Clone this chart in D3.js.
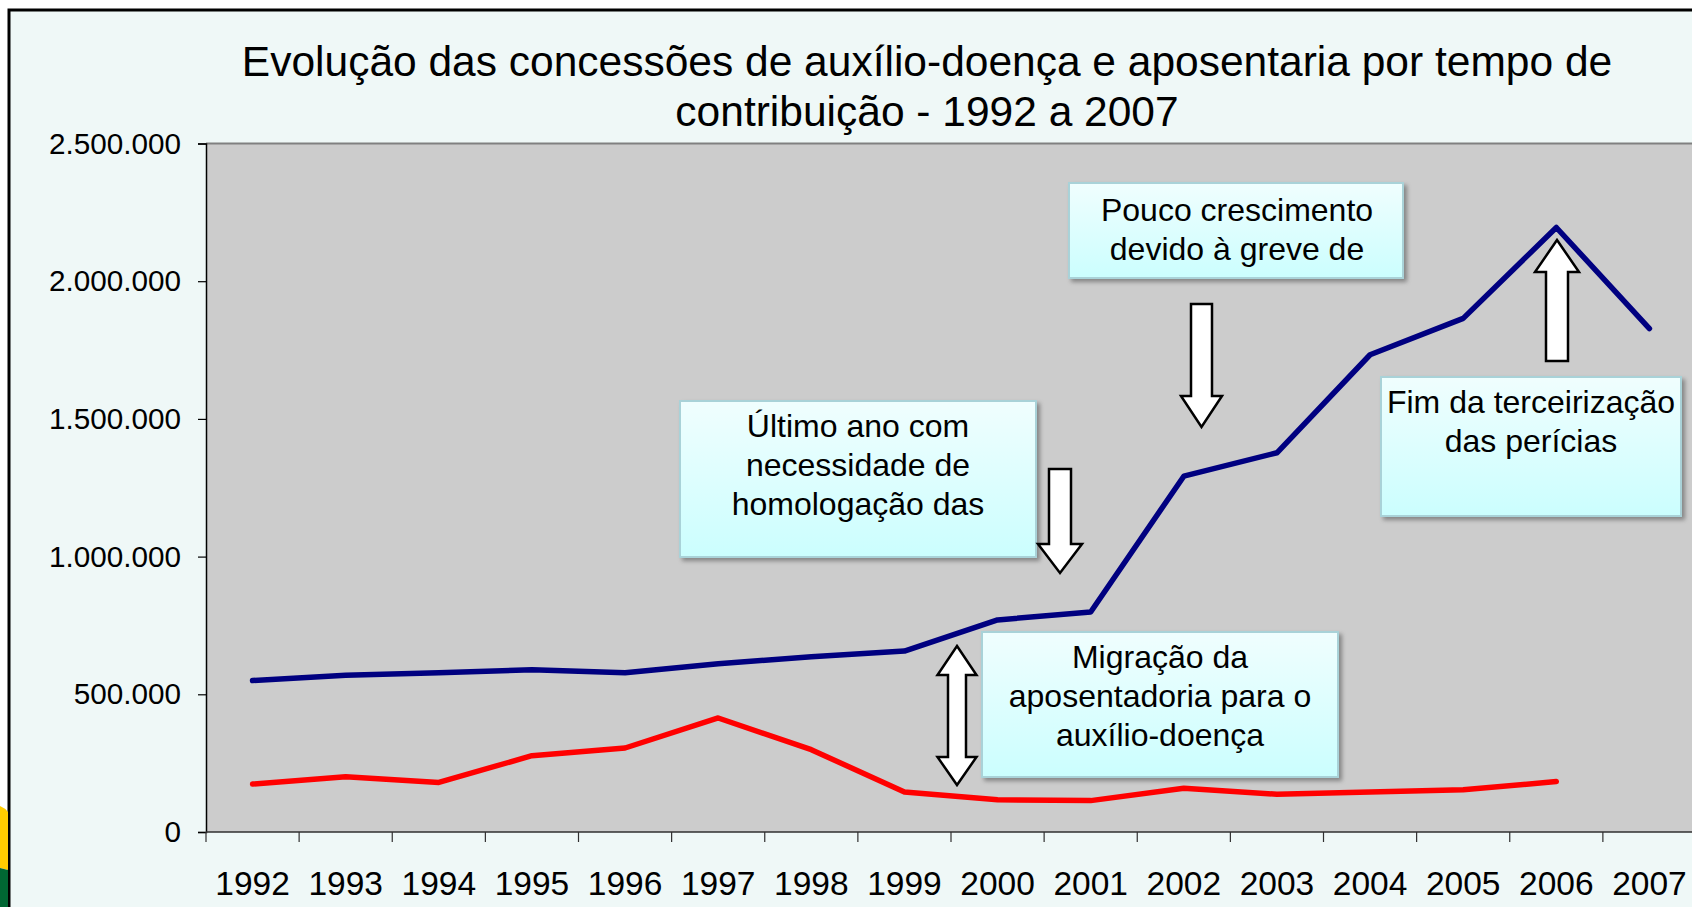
<!DOCTYPE html>
<html>
<head>
<meta charset="utf-8">
<title>Evolução das concessões</title>
<script src="https://d3js.org/d3.v7.min.js"></script>
<style>
  body { margin: 0; background: #fff; overflow: hidden; }
  text { font-family: 'Liberation Sans', Arial, sans-serif; fill: #000; }
</style>
</head>
<body>
<div id="viz"></div>
<script>
  // categories
  const years = ["1992", "1993", "1994", "1995", "1996", "1997", "1998", "1999",
    "2000", "2001", "2002", "2003", "2004", "2005", "2006", "2007"];

  // auxílio-doença (blue)
  const auxilioDoenca = [550000, 569000, 578000, 589000, 578000, 611000, 636000, 657000,
    770000, 799000, 1292000, 1377000, 1733000, 1865000, 2195000, 1828000];

  // aposentadoria por tempo de contribuição (red), no value for 2007
  const aposentadoria = [174000, 201000, 180000, 277000, 305000, 414000, 299000, 145000,
    117000, 114000, 159000, 137000, 145000, 153000, 183000, null];

  const yTicks = [0, 500000, 1000000, 1500000, 2000000, 2500000];

  const titleLines = ["Evolução das concessões de auxílio-doença e aposentaria por tempo de",
    "contribuição - 1992 a 2007"];

  const W = 1692, H = 907;
  const PLOT = { left: 206, right: 1696, top: 143.5, bottom: 832 };

  const colors = {
    page: "#eff8f7",
    plot: "#cccccc",
    blue: "#000080",
    red: "#ff0000"
  };

  const svg = d3.select("#viz").append("svg")
    .attr("width", W)
    .attr("height", H);

  const defs = svg.append("defs");
  const grad = defs.append("linearGradient")
    .attr("id", "boxFill")
    .attr("x1", 0).attr("y1", 0).attr("x2", 0).attr("y2", 1);
  grad.append("stop").attr("offset", "0%").attr("stop-color", "#f0fefe");
  grad.append("stop").attr("offset", "100%").attr("stop-color", "#cbfefe");

  const shadow = defs.append("filter").attr("id", "shadow")
    .attr("x", "-10%").attr("y", "-10%").attr("width", "130%").attr("height", "130%");
  shadow.append("feDropShadow")
    .attr("dx", 3).attr("dy", 3).attr("stdDeviation", 2)
    .attr("flood-color", "#000").attr("flood-opacity", 0.35);

  // page background + frame
  svg.append("rect").attr("width", W).attr("height", H).attr("fill", "#fff");
  svg.append("rect")
    .attr("x", 9).attr("y", 10).attr("width", W + 50).attr("height", H + 50)
    .attr("fill", colors.page)
    .attr("stroke", "#000").attr("stroke-width", 3);

  // little yellow/green corner from the slide template
  svg.append("path")
    .attr("d", "M0,806 Q5,808 8,812 L8,870 L0,868 Z")
    .attr("fill", "#ffcc00");
  svg.append("path")
    .attr("d", "M0,868 L8,870 L8,907 L0,907 Z")
    .attr("fill", "#006633");

  // title
  svg.append("text")
    .attr("x", 927).attr("y", 76)
    .attr("text-anchor", "middle")
    .style("font-size", "42.5px")
    .selectAll("tspan")
    .data(titleLines)
    .join("tspan")
    .attr("x", 927)
    .attr("dy", (d, i) => i === 0 ? 0 : 50)
    .text(d => d);

  // scales
  const x = d3.scaleBand().domain(years).range([PLOT.left, PLOT.right]).padding(0);
  const y = d3.scaleLinear().domain([0, 2500000]).range([PLOT.bottom, PLOT.top]);
  const cx = d => x(d) + x.bandwidth() / 2;

  const ptBR = d3.formatLocale({ decimal: ",", thousands: ".", grouping: [3], currency: ["R$", ""] });
  const fmt = ptBR.format(",d");

  // plot area
  svg.append("rect")
    .attr("x", PLOT.left).attr("y", PLOT.top)
    .attr("width", PLOT.right - PLOT.left).attr("height", PLOT.bottom - PLOT.top)
    .attr("fill", colors.plot);
  svg.append("line")
    .attr("x1", PLOT.left).attr("x2", PLOT.right)
    .attr("y1", PLOT.top).attr("y2", PLOT.top)
    .attr("stroke", "#808080").attr("stroke-width", 2);

  // y axis
  const yAxis = svg.append("g")
    .attr("transform", "translate(" + PLOT.left + ",0)")
    .call(d3.axisLeft(y).tickValues(yTicks).tickFormat(fmt).tickSize(8).tickPadding(17));
  yAxis.select(".domain").attr("stroke", "#000").attr("stroke-width", 1.5);
  yAxis.selectAll(".tick line").attr("stroke", "#000").attr("stroke-width", 1.2);
  yAxis.selectAll(".tick text")
    .attr("fill", "#000")
    .style("font-family", "'Liberation Sans', Arial, sans-serif")
    .style("font-size", "29.7px");

  // x axis: ticks between categories
  const xAxis = svg.append("g")
    .attr("transform", "translate(0," + PLOT.bottom + ")");
  xAxis.append("line")
    .attr("x1", PLOT.left).attr("x2", PLOT.right)
    .attr("stroke", "#303030").attr("stroke-width", 1.5);
  xAxis.selectAll(".xtick")
    .data(years)
    .join("line")
    .attr("class", "xtick")
    .attr("x1", d => x(d)).attr("x2", d => x(d))
    .attr("y1", 0).attr("y2", 10)
    .attr("stroke", "#303030").attr("stroke-width", 1.2);
  xAxis.selectAll(".xlabel")
    .data(years)
    .join("text")
    .attr("class", "xlabel")
    .attr("x", d => cx(d))
    .attr("y", 63)
    .attr("text-anchor", "middle")
    .style("font-size", "33.5px")
    .text(d => d);

  // lines
  const line = d3.line()
    .defined(d => d.v !== null)
    .x(d => cx(d.year))
    .y(d => y(d.v));

  const series = [
    { values: auxilioDoenca, color: colors.blue },
    { values: aposentadoria, color: colors.red }
  ];

  svg.selectAll(".series")
    .data(series)
    .join("path")
    .attr("class", "series")
    .attr("d", s => line(years.map((yr, i) => ({ year: yr, v: s.values[i] }))))
    .attr("fill", "none")
    .attr("stroke", s => s.color)
    .attr("stroke-width", 5.5)
    .attr("stroke-linejoin", "round")
    .attr("stroke-linecap", "round");

  // annotation boxes
  const notes = [
    { x: 680, y: 401, w: 356, h: 156, cx: 858, y0: 437, lines: ["Último ano com", "necessidade de", "homologação das"] },
    { x: 1069, y: 183, w: 334, h: 95, cx: 1237, y0: 221, lines: ["Pouco crescimento", "devido à greve de"] },
    { x: 1381, y: 377, w: 300, h: 139, cx: 1531, y0: 413, lines: ["Fim da terceirização", "das perícias"] },
    { x: 982, y: 632, w: 356, h: 145, cx: 1160, y0: 668, lines: ["Migração da", "aposentadoria para o", "auxílio-doença"] }
  ];

  const noteG = svg.selectAll(".note")
    .data(notes)
    .join("g")
    .attr("class", "note");
  noteG.append("rect")
    .attr("x", d => d.x).attr("y", d => d.y)
    .attr("width", d => d.w).attr("height", d => d.h)
    .attr("fill", "url(#boxFill)")
    .attr("stroke", "#a9d2d8").attr("stroke-width", 2)
    .attr("filter", "url(#shadow)");
  noteG.append("text")
    .attr("text-anchor", "middle")
    .style("font-size", "32px")
    .selectAll("tspan")
    .data(d => d.lines.map((t, i) => ({ t: t, i: i, d: d })))
    .join("tspan")
    .attr("x", o => o.d.cx)
    .attr("y", o => o.d.y0 + o.i * 38.8)
    .text(o => o.t);

  // block arrows
  function arrowDown(c, sw, hw, top, base, tip) {
    return [[c - sw / 2, top], [c + sw / 2, top], [c + sw / 2, base], [c + hw / 2, base],
      [c, tip], [c - hw / 2, base], [c - sw / 2, base]];
  }
  function arrowDouble(c, sw, hw, tip1, base1, base2, tip2) {
    return [[c, tip1], [c + hw / 2, base1], [c + sw / 2, base1], [c + sw / 2, base2],
      [c + hw / 2, base2], [c, tip2], [c - hw / 2, base2], [c - sw / 2, base2],
      [c - sw / 2, base1], [c - hw / 2, base1]];
  }

  const arrows = [
    arrowDown(1060, 22, 44, 469, 544, 573),
    arrowDown(1201.5, 21, 41, 304, 396, 427),
    arrowDown(1557, 22, 44, 361, 272, 240),
    arrowDouble(957, 18, 39, 646, 675, 757, 785)
  ];

  svg.selectAll(".arrow")
    .data(arrows)
    .join("polygon")
    .attr("class", "arrow")
    .attr("points", d => d.map(p => p.join(",")).join(" "))
    .attr("fill", "#fff")
    .attr("stroke", "#000")
    .attr("stroke-width", 2.5)
    .attr("stroke-linejoin", "miter");
</script>
</body>
</html>
